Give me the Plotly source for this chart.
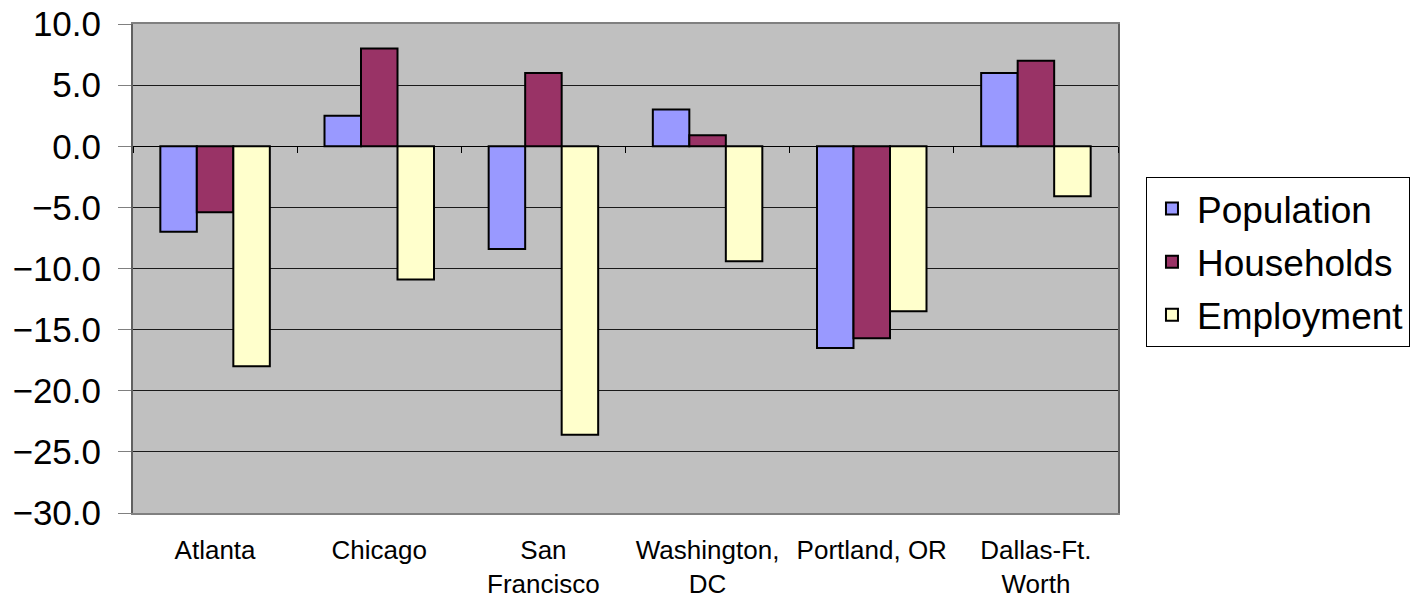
import plotly.graph_objects as go

# Percent change by metro area
categories = ["Atlanta", "Chicago", "San<br>Francisco", "Washington,<br>DC",
              "Portland, OR", "Dallas-Ft.<br>Worth"]
population = [-7.0, 2.5, -8.4, 3.0, -16.5, 6.0]
households = [-5.4, 8.0, 6.0, 0.9, -15.7, 7.0]
employment = [-18.0, -10.9, -23.6, -9.4, -13.5, -4.1]

y_ticks = [10, 5, 0, -5, -10, -15, -20, -25, -30]

series = [
    ("Population", population, "#9999FF"),
    ("Households", households, "#993366"),
    ("Employment", employment, "#FFFFCC"),
]

FONT = "Arial, Liberation Sans, sans-serif"

fig = go.Figure()
for name, vals, color in series:
    fig.add_trace(go.Bar(
        x=categories, y=vals, name=name, legendgroup=name,
        marker=dict(color=color, line=dict(color="black", width=2)),
    ))

# helper axis that carries the category-boundary ticks along the zero line
n = len(categories)
boundaries = [i - 0.5 for i in range(n + 1)]
fig.add_trace(go.Scatter(x=[0], y=[0], xaxis="x2", mode="markers",
                         marker=dict(opacity=0), showlegend=False,
                         hoverinfo="skip"))

y_min, y_max = min(y_ticks), max(y_ticks)

fig.update_layout(
    width=1418, height=600,
    margin=dict(l=133, r=300, t=24, b=87, autoexpand=False),
    paper_bgcolor="white",
    plot_bgcolor="#C0C0C0",
    barmode="group",
    bargap=0.333,
    bargroupgap=0,
    font=dict(family=FONT, color="black"),
    showlegend=True,
    legend=dict(
        x=1.0284, y=0.687, xanchor="left", yanchor="top",
        bgcolor="white", bordercolor="black", borderwidth=1,
        font=dict(size=37, family=FONT, color="black"),
        traceorder="grouped", tracegroupgap=2,
        itemwidth=40,
    ),
    xaxis=dict(
        type="category", automargin=False,
        range=[-0.5, n - 0.5],
        showline=True, linecolor="#808080", linewidth=2, mirror=True,
        ticks="outside", ticklen=0, tickcolor="rgba(0,0,0,0)",
        ticklabelstandoff=13,
        tickfont=dict(size=26, family=FONT, color="black"),
        showgrid=False, zeroline=False,
    ),
    xaxis2=dict(
        overlaying="x", anchor="free", position=(0 - y_min) / (y_max - y_min),
        side="bottom", range=[-0.5, n - 0.5], automargin=False,
        tickvals=boundaries, ticks="outside", ticklen=6, tickcolor="black",
        tickwidth=1, showticklabels=False, showline=False, showgrid=False,
        zeroline=False,
    ),
    yaxis=dict(
        range=[y_min, y_max], automargin=False,
        tickvals=y_ticks, tickformat=".1f",
        ticks="outside", ticklen=13, tickcolor="#808080", tickwidth=1,
        ticklabelstandoff=10,
        tickfont=dict(size=35, family=FONT, color="black"),
        showgrid=True, gridcolor="#1a1a1a", gridwidth=1,
        zeroline=True, zerolinecolor="black", zerolinewidth=1,
        showline=True, linecolor="#606060", linewidth=2, mirror=True,
    ),
)

fig.write_html("out.html")
